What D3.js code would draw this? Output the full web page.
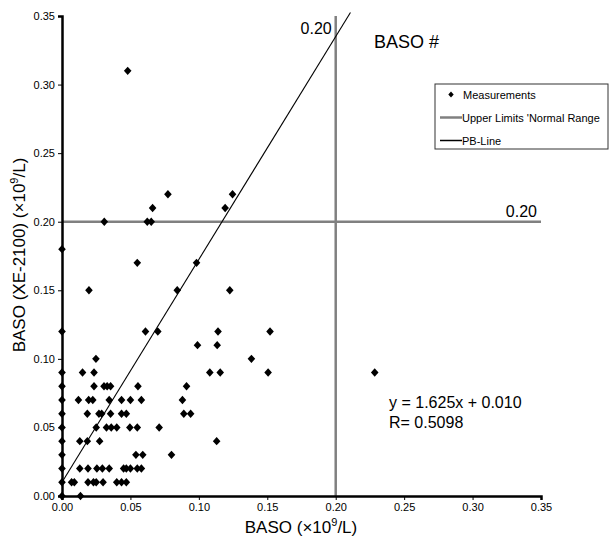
<!DOCTYPE html>
<html>
<head>
<meta charset="utf-8">
<script src="https://cdn.jsdelivr.net/npm/d3@7/dist/d3.min.js"></script>
<style>
  body { margin: 0; background: #fff; }
  svg { display: block; font-family: "Liberation Sans", Arial, sans-serif; }
</style>
</head>
<body>
<svg width="611" height="541"></svg>
<script>
const measurements = [
  [0, 0], [0, 0.01], [0, 0.02], [0, 0.03], [0, 0.04], [0, 0.05], [0, 0.06],
  [0, 0.07], [0, 0.08], [0, 0.09], [0, 0.12], [0, 0.18],
  [0.0135, 0],
  [0.007, 0.01], [0.009, 0.01], [0.019, 0.01], [0.023, 0.01], [0.025, 0.01],
  [0.030, 0.01], [0.040, 0.01], [0.0435, 0.01], [0.047, 0.01],
  [0.013, 0.02], [0.019, 0.02], [0.0255, 0.02], [0.0295, 0.02], [0.0345, 0.02],
  [0.045, 0.02], [0.047, 0.02], [0.050, 0.02], [0.055, 0.02], [0.058, 0.02],
  [0.054, 0.03], [0.059, 0.03], [0.080, 0.03],
  [0.013, 0.04], [0.0185, 0.04], [0.0275, 0.04], [0.113, 0.04],
  [0.025, 0.05], [0.0325, 0.05], [0.036, 0.05], [0.040, 0.05], [0.0496, 0.05],
  [0.055, 0.05], [0.071, 0.05],
  [0.0185, 0.06], [0.027, 0.06], [0.029, 0.06], [0.0355, 0.06], [0.0435, 0.06],
  [0.047, 0.06], [0.089, 0.06], [0.094, 0.06],
  [0.012, 0.07], [0.0195, 0.07], [0.0225, 0.07], [0.0345, 0.07], [0.0435, 0.07],
  [0.050, 0.07], [0.058, 0.07], [0.088, 0.07],
  [0.0234, 0.08], [0.0307, 0.08], [0.033, 0.08], [0.0355, 0.08], [0.0555, 0.08],
  [0.091, 0.08],
  [0.015, 0.09], [0.0234, 0.09], [0.108, 0.09], [0.1156, 0.09], [0.1506, 0.09],
  [0.2285, 0.09],
  [0.0248, 0.10], [0.1384, 0.10],
  [0.099, 0.11], [0.1134, 0.11],
  [0.061, 0.12], [0.070, 0.12], [0.114, 0.12], [0.152, 0.12],
  [0.0197, 0.15], [0.0842, 0.15], [0.1226, 0.15],
  [0.055, 0.17], [0.0983, 0.17],
  [0.0309, 0.20], [0.0623, 0.20], [0.0652, 0.20],
  [0.0662, 0.21], [0.1192, 0.21],
  [0.0774, 0.22], [0.1246, 0.22],
  [0.048, 0.31]
];

const tickValues = [0, 0.05, 0.10, 0.15, 0.20, 0.25, 0.30, 0.35];
const upperLimit = 0.20;       // normal range limit, both axes
const slope = 1.625, intercept = 0.010;
const legendLabels = ["Measurements", "Upper Limits 'Normal Range", "PB-Line"];

const svg = d3.select("svg");
const x = d3.scaleLinear().domain([0, 0.35]).range([62, 541]);
const y = d3.scaleLinear().domain([0, 0.35]).range([496, 16]);

// limit lines
svg.append("line")
  .attr("x1", x(0)).attr("x2", x(0.35))
  .attr("y1", y(upperLimit)).attr("y2", y(upperLimit))
  .attr("stroke", "#808080").attr("stroke-width", 2.5);
svg.append("line")
  .attr("x1", x(upperLimit)).attr("x2", x(upperLimit))
  .attr("y1", y(0.35)).attr("y2", y(0))
  .attr("stroke", "#808080").attr("stroke-width", 2.5);

// PB-line
const xEnd = (0.3525 - intercept) / slope;
svg.append("line")
  .attr("x1", x(0)).attr("y1", y(intercept))
  .attr("x2", x(xEnd)).attr("y2", y(slope * xEnd + intercept))
  .attr("stroke", "#000").attr("stroke-width", 1.1);

// axes
const fmt = d3.format(".2f");
const xAxis = svg.append("g")
  .attr("transform", `translate(0,${y(0)})`)
  .call(d3.axisBottom(x).tickValues(tickValues).tickFormat(fmt).tickSize(4).tickPadding(3));
const yAxis = svg.append("g")
  .attr("transform", `translate(${x(0)},0)`)
  .call(d3.axisLeft(y).tickValues(tickValues).tickFormat(fmt).tickSize(4).tickPadding(3));
[xAxis, yAxis].forEach(g => {
  g.select(".domain").attr("stroke", "#000").attr("stroke-width", 2.5);
  g.selectAll(".tick line").attr("stroke", "#000").attr("stroke-width", 1);
  g.selectAll(".tick text").attr("font-size", 11).attr("fill", "#000")
    .attr("font-family", "Liberation Sans, Arial, sans-serif");
});

// points
const diamond = "M0,-4.2L3.8,0L0,4.2L-3.8,0Z";
svg.append("g").selectAll("path")
  .data(measurements)
  .enter().append("path")
  .attr("d", diamond)
  .attr("transform", d => `translate(${x(d[0])},${y(d[1])})`)
  .attr("fill", "#000");

// labels
svg.append("text").attr("x", x(upperLimit) - 4).attr("y", 34)
  .attr("text-anchor", "end").attr("font-size", 16).text("0.20");
svg.append("text").attr("x", 537).attr("y", 217)
  .attr("text-anchor", "end").attr("font-size", 16).text("0.20");
svg.append("text").attr("x", 374).attr("y", 48)
  .attr("font-size", 18).text("BASO #");
svg.append("text").attr("x", 389).attr("y", 408)
  .attr("font-size", 16).text(`y = ${slope}x + ${intercept.toFixed(3)}`);
svg.append("text").attr("x", 389).attr("y", 428)
  .attr("font-size", 16).text("R= 0.5098");

// axis titles
const xt = svg.append("text").attr("x", 301).attr("y", 533)
  .attr("text-anchor", "middle").attr("font-size", 17);
xt.append("tspan").text("BASO (\u00d710");
xt.append("tspan").attr("font-size", 11).attr("dy", -7).text("9");
xt.append("tspan").attr("dy", 7).text("/L)");

const yt = svg.append("text")
  .attr("transform", "translate(25,255) rotate(-90)")
  .attr("text-anchor", "middle").attr("font-size", 17);
yt.append("tspan").text("BASO (XE-2100) (\u00d710");
yt.append("tspan").attr("font-size", 11).attr("dy", -7).text("9");
yt.append("tspan").attr("dy", 7).text("/L)");

// legend
const lg = svg.append("g").attr("transform", "translate(435,84)");
lg.append("rect").attr("width", 173).attr("height", 65)
  .attr("fill", "#fff").attr("stroke", "#333").attr("stroke-width", 1);
const rowY = [10.5, 33.5, 56.5];
lg.append("path").attr("d", "M0,-3L2.7,0L0,3L-2.7,0Z")
  .attr("transform", `translate(16,${rowY[0]})`).attr("fill", "#000");
lg.append("line").attr("x1", 5).attr("x2", 27).attr("y1", rowY[1]).attr("y2", rowY[1])
  .attr("stroke", "#808080").attr("stroke-width", 2.5);
lg.append("line").attr("x1", 5).attr("x2", 27).attr("y1", rowY[2]).attr("y2", rowY[2])
  .attr("stroke", "#000").attr("stroke-width", 1.5);
lg.selectAll("text.lbl").data(legendLabels).enter().append("text")
  .attr("class", "lbl")
  .attr("x", (d, i) => i === 0 ? 28 : 27)
  .attr("y", (d, i) => rowY[i] + 4)
  .attr("font-size", 11)
  .text(d => d);
</script>
</body>
</html>
